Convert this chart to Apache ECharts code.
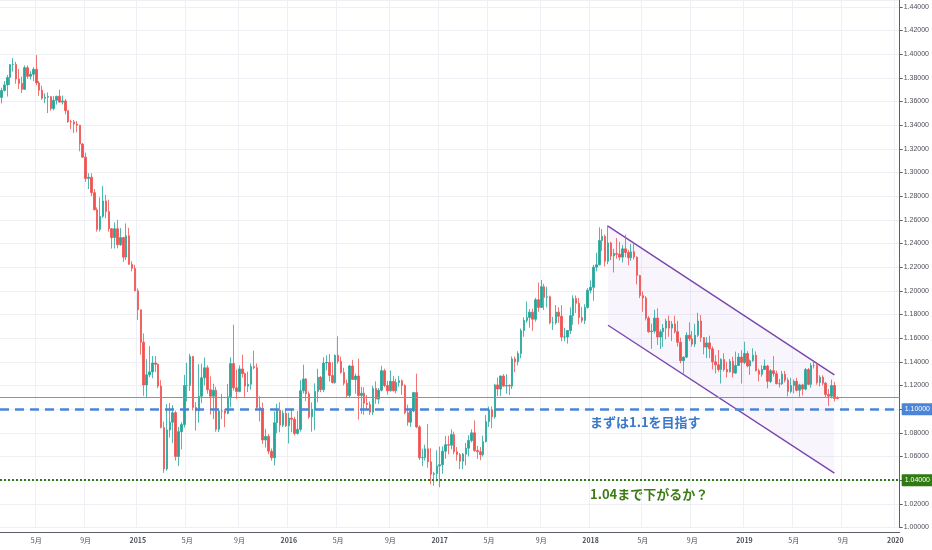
<!DOCTYPE html>
<html>
<head>
<meta charset="utf-8">
<script src="https://cdn.jsdelivr.net/npm/echarts@6/dist/echarts.min.js"></script>
<style>
  html, body { margin: 0; padding: 0; background: #fff; }
  #chart { width: 932px; height: 550px; }
</style>
</head>
<body>
<div id="chart"></div>
<script>
// EUR/USD weekly candles, [open, close, low, high], first week 2014-02-10
var w2014 = [
  [1.3635,1.3693,1.3585,1.3716],[1.3693,1.3740,1.3685,1.3773],[1.3740,1.3803,1.3642,1.3825],[1.3803,1.3912,1.3740,1.3915],
  [1.3912,1.3913,1.3853,1.3967],[1.3913,1.3790,1.3750,1.3936],[1.3790,1.3753,1.3705,1.3876],[1.3753,1.3703,1.3672,1.3810],
  [1.3703,1.3886,1.3700,1.3905],[1.3886,1.3813,1.3790,1.3906],[1.3813,1.3830,1.3785,1.3857],[1.3830,1.3872,1.3772,1.3889],
  [1.3872,1.3757,1.3737,1.3993],[1.3757,1.3696,1.3648,1.3773],[1.3696,1.3628,1.3615,1.3733],[1.3628,1.3636,1.3586,1.3670],
  [1.3636,1.3642,1.3503,1.3677],[1.3642,1.3540,1.3522,1.3643],[1.3540,1.3610,1.3525,1.3646],[1.3610,1.3645,1.3574,1.3648],
  [1.3645,1.3595,1.3590,1.3700],[1.3595,1.3605,1.3575,1.3650],[1.3605,1.3523,1.3492,1.3622],[1.3523,1.3430,1.3420,1.3526],
  [1.3430,1.3427,1.3366,1.3445],[1.3427,1.3410,1.3333,1.3445],[1.3410,1.3400,1.3340,1.3435],[1.3400,1.3240,1.3180,1.3403],
  [1.3240,1.3130,1.3125,1.3250],[1.3130,1.2950,1.2920,1.3168],[1.2950,1.2960,1.2860,1.2995],[1.2960,1.2830,1.2800,1.2994],
  [1.2830,1.2685,1.2680,1.2860],[1.2685,1.2520,1.2500,1.2705],[1.2520,1.2630,1.2502,1.2790],[1.2630,1.2760,1.2615,1.2887],
  [1.2760,1.2670,1.2615,1.2810],[1.2670,1.2525,1.2500,1.2770],[1.2525,1.2450,1.2357,1.2530],[1.2450,1.2525,1.2358,1.2578],
  [1.2525,1.2390,1.2360,1.2600],[1.2390,1.2450,1.2380,1.2530],[1.2450,1.2285,1.2245,1.2456],[1.2285,1.2465,1.2260,1.2570],
  [1.2465,1.2225,1.2220,1.2533],[1.2225,1.2190,1.2165,1.2250],[1.2190,1.2000,1.1997,1.2220]
];
var w2015 = [
  [1.2000,1.1840,1.1754,1.2020],[1.1840,1.1565,1.1460,1.1840],[1.1565,1.1205,1.1113,1.1640],[1.1205,1.1290,1.1098,1.1423],
  [1.1290,1.1315,1.1270,1.1534],[1.1315,1.1390,1.1262,1.1450],[1.1390,1.1380,1.1315,1.1449],[1.1380,1.1195,1.1177,1.1387],
  [1.1195,1.0845,1.0838,1.1245],[1.0845,1.0495,1.0462,1.0895],[1.0495,1.0825,1.0480,1.1043],[1.0825,1.0890,1.0760,1.1052],
  [1.0890,1.0970,1.0712,1.1035],[1.0970,1.0600,1.0565,1.0987],[1.0600,1.0810,1.0520,1.0850],[1.0810,1.0870,1.0660,1.0890],
  [1.0870,1.1200,1.0845,1.1290],[1.1200,1.1200,1.1065,1.1392],[1.1200,1.1445,1.1154,1.1467],[1.1445,1.1015,1.0989,1.1450],
  [1.1015,1.0985,1.0819,1.1060],[1.0985,1.1110,1.0885,1.1380],[1.1110,1.1265,1.1050,1.1385],[1.1265,1.1350,1.1200,1.1436],
  [1.1350,1.1165,1.1130,1.1370],[1.1165,1.1110,1.0955,1.1278],[1.1110,1.1160,1.0915,1.1215],[1.1160,1.0830,1.0810,1.1190],
  [1.0830,1.0985,1.0808,1.0998],[1.0985,1.0985,1.0915,1.1129],[1.0985,1.0965,1.0848,1.1000],[1.0965,1.1105,1.0957,1.1214],
  [1.1105,1.1385,1.1016,1.1439],[1.1385,1.1180,1.1156,1.1714],[1.1180,1.1150,1.1087,1.1332],[1.1150,1.1340,1.1143,1.1370],
  [1.1340,1.1300,1.1266,1.1460],[1.1300,1.1195,1.1104,1.1310],[1.1195,1.1210,1.1145,1.1317],[1.1210,1.1360,1.1165,1.1387],
  [1.1360,1.1350,1.1338,1.1495],[1.1350,1.1015,1.0996,1.1387],[1.1015,1.1005,1.0896,1.1108],[1.1005,1.0740,1.0706,1.1056],
  [1.0740,1.0770,1.0676,1.0834],[1.0770,1.0645,1.0620,1.0790],[1.0645,1.0590,1.0565,1.0668],[1.0590,1.0885,1.0524,1.0980],
  [1.0885,1.0990,1.0796,1.1045],[1.0990,1.0865,1.0805,1.1058],[1.0865,1.0965,1.0849,1.0990],[1.0965,1.0860,1.0850,1.0994]
];
var w2016 = [
  [1.0860,1.0925,1.0710,1.0970],[1.0925,1.0915,1.0805,1.0995],[1.0915,1.0795,1.0778,1.0936],[1.0795,1.0830,1.0785,1.0986],
  [1.0830,1.1155,1.0810,1.1245],[1.1155,1.1255,1.1133,1.1376],[1.1255,1.1130,1.1068,1.1263],[1.1130,1.0935,1.0919,1.1150],
  [1.0935,1.1000,1.0810,1.1057],[1.1000,1.1150,1.0822,1.1218],[1.1150,1.1270,1.1058,1.1342],[1.1270,1.1165,1.1144,1.1280],
  [1.1165,1.1390,1.1145,1.1438],[1.1390,1.1395,1.1327,1.1454],[1.1395,1.1285,1.1233,1.1465],[1.1285,1.1225,1.1217,1.1398],
  [1.1225,1.1455,1.1214,1.1462],[1.1455,1.1405,1.1384,1.1616],[1.1405,1.1310,1.1300,1.1445],[1.1310,1.1220,1.1200,1.1350],
  [1.1220,1.1115,1.1098,1.1250],[1.1115,1.1365,1.1093,1.1373],[1.1365,1.1250,1.1248,1.1416],[1.1250,1.1280,1.1130,1.1300],
  [1.1280,1.1115,1.0912,1.1427],[1.1115,1.1135,1.0960,1.1189],[1.1135,1.1050,1.0952,1.1185],[1.1050,1.1040,1.1000,1.1120],
  [1.1040,1.0975,1.0952,1.1065],[1.0975,1.1175,1.0951,1.1198],[1.1175,1.1085,1.1046,1.1235],[1.1085,1.1160,1.1045,1.1178],
  [1.1160,1.1325,1.1150,1.1366],[1.1325,1.1200,1.1185,1.1342],[1.1200,1.1155,1.1122,1.1240],[1.1155,1.1235,1.1150,1.1327],
  [1.1235,1.1155,1.1150,1.1282],[1.1155,1.1225,1.1134,1.1257],[1.1225,1.1240,1.1190,1.1280],[1.1240,1.1200,1.1122,1.1250],
  [1.1200,1.0970,1.0957,1.1210],[1.0970,1.0890,1.0860,1.1038],[1.0890,1.0985,1.0850,1.0990],[1.0985,1.1140,1.0975,1.1145],
  [1.1140,1.0850,1.0840,1.1300],[1.0850,1.0590,1.0570,1.0865],[1.0590,1.0590,1.0520,1.0665],[1.0590,1.0665,1.0566,1.0700],
  [1.0665,1.0555,1.0505,1.0874],[1.0555,1.0450,1.0365,1.0670],[1.0450,1.0455,1.0352,1.0470],[1.0455,1.0520,1.0390,1.0653]
];
var w2017 = [
  [1.0520,1.0530,1.0340,1.0684],[1.0530,1.0645,1.0454,1.0685],[1.0645,1.0700,1.0580,1.0775],[1.0700,1.0695,1.0619,1.0775],
  [1.0695,1.0785,1.0660,1.0829],[1.0785,1.0640,1.0619,1.0810],[1.0640,1.0615,1.0565,1.0680],[1.0615,1.0560,1.0494,1.0630],
  [1.0560,1.0620,1.0493,1.0630],[1.0620,1.0670,1.0525,1.0715],[1.0670,1.0735,1.0600,1.0780],[1.0735,1.0800,1.0720,1.0829],
  [1.0800,1.0650,1.0640,1.0905],[1.0650,1.0640,1.0580,1.0690],[1.0640,1.0615,1.0570,1.0680],[1.0615,1.0725,1.0600,1.0777],
  [1.0725,1.0895,1.0720,1.0950],[1.0895,1.0995,1.0850,1.1022],[1.0995,1.0935,1.0838,1.1024],[1.0935,1.1205,1.0920,1.1215],
  [1.1205,1.1170,1.1110,1.1268],[1.1170,1.1280,1.1110,1.1285],[1.1280,1.1195,1.1190,1.1296],[1.1195,1.1200,1.1131,1.1296],
  [1.1200,1.1195,1.1119,1.1210],[1.1195,1.1425,1.1170,1.1446],[1.1425,1.1400,1.1312,1.1445],[1.1400,1.1470,1.1370,1.1490],
  [1.1470,1.1665,1.1430,1.1682],[1.1665,1.1750,1.1612,1.1777],[1.1750,1.1775,1.1730,1.1910],[1.1775,1.1820,1.1688,1.1845],
  [1.1820,1.1760,1.1662,1.1850],[1.1760,1.1925,1.1740,1.1940],[1.1925,1.1860,1.1823,1.2070],[1.1860,1.2035,1.1855,1.2092],
  [1.2035,1.1945,1.1838,1.2060],[1.1945,1.1950,1.1860,1.2035],[1.1950,1.1730,1.1717,1.1960],[1.1730,1.1730,1.1669,1.1780],
  [1.1730,1.1820,1.1715,1.1880],[1.1820,1.1785,1.1730,1.1860],[1.1785,1.1610,1.1574,1.1880],[1.1610,1.1610,1.1574,1.1688],
  [1.1610,1.1665,1.1554,1.1668],[1.1665,1.1790,1.1635,1.1860],[1.1790,1.1935,1.1713,1.1962],[1.1935,1.1895,1.1812,1.1961],
  [1.1895,1.1775,1.1717,1.1940],[1.1775,1.1750,1.1730,1.1862],[1.1750,1.1860,1.1720,1.1887],[1.1860,1.2005,1.1850,1.2023]
];
var w2018 = [
  [1.2005,1.2030,1.1978,1.2089],[1.2030,1.2200,1.1916,1.2219],[1.2200,1.2220,1.2165,1.2323],[1.2220,1.2425,1.2215,1.2537],
  [1.2425,1.2460,1.2335,1.2522],[1.2460,1.2250,1.2206,1.2475],[1.2250,1.2405,1.2225,1.2555],[1.2405,1.2295,1.2260,1.2415],
  [1.2295,1.2315,1.2155,1.2355],[1.2315,1.2310,1.2272,1.2446],[1.2310,1.2285,1.2258,1.2413],[1.2285,1.2355,1.2240,1.2388],
  [1.2355,1.2325,1.2285,1.2476],[1.2325,1.2280,1.2215,1.2345],[1.2280,1.2330,1.2255,1.2396],[1.2330,1.2285,1.2265,1.2414],
  [1.2285,1.2130,1.2054,1.2290],[1.2130,1.1960,1.1938,1.2135],[1.1960,1.1940,1.1823,1.1996],[1.1940,1.1770,1.1750,1.1955],
  [1.1770,1.1655,1.1645,1.1787],[1.1655,1.1660,1.1510,1.1723],[1.1660,1.1770,1.1640,1.1840],[1.1770,1.1610,1.1543,1.1852],
  [1.1610,1.1655,1.1508,1.1675],[1.1655,1.1685,1.1527,1.1720],[1.1685,1.1745,1.1590,1.1765],[1.1745,1.1685,1.1612,1.1791],
  [1.1685,1.1720,1.1575,1.1745],[1.1720,1.1655,1.1640,1.1790],[1.1655,1.1565,1.1529,1.1746],[1.1565,1.1410,1.1388,1.1605],
  [1.1410,1.1440,1.1301,1.1445],[1.1440,1.1625,1.1432,1.1650],[1.1625,1.1595,1.1575,1.1734],[1.1595,1.1550,1.1529,1.1660],
  [1.1550,1.1625,1.1525,1.1721],[1.1625,1.1745,1.1610,1.1815],[1.1745,1.1605,1.1568,1.1795],[1.1605,1.1525,1.1463,1.1610],
  [1.1525,1.1560,1.1432,1.1610],[1.1560,1.1510,1.1431,1.1621],[1.1510,1.1400,1.1336,1.1530],[1.1400,1.1375,1.1302,1.1456],
  [1.1375,1.1335,1.1316,1.1500],[1.1335,1.1420,1.1216,1.1430],[1.1420,1.1335,1.1318,1.1472],[1.1335,1.1315,1.1268,1.1401],
  [1.1315,1.1405,1.1311,1.1425],[1.1405,1.1305,1.1268,1.1443],[1.1305,1.1370,1.1300,1.1486],[1.1370,1.1440,1.1365,1.1474],
  [1.1440,1.1395,1.1216,1.1498]
];
var w2019 = [
  [1.1395,1.1470,1.1380,1.1570],[1.1470,1.1365,1.1354,1.1490],[1.1365,1.1410,1.1289,1.1420],[1.1410,1.1455,1.1400,1.1514],
  [1.1455,1.1325,1.1320,1.1488],[1.1325,1.1295,1.1234,1.1342],[1.1295,1.1335,1.1275,1.1370],[1.1335,1.1365,1.1332,1.1420],
  [1.1365,1.1235,1.1176,1.1375],[1.1235,1.1325,1.1220,1.1340],[1.1325,1.1300,1.1275,1.1448],[1.1300,1.1215,1.1211,1.1325],
  [1.1215,1.1215,1.1183,1.1255],[1.1215,1.1295,1.1205,1.1324],[1.1295,1.1245,1.1226,1.1323],[1.1245,1.1150,1.1110,1.1265],
  [1.1150,1.1200,1.1135,1.1265],[1.1200,1.1235,1.1134,1.1251],[1.1235,1.1160,1.1150,1.1265],[1.1160,1.1205,1.1105,1.1215],
  [1.1205,1.1170,1.1116,1.1215],[1.1170,1.1335,1.1160,1.1348],[1.1335,1.1210,1.1202,1.1348],[1.1210,1.1370,1.1181,1.1390],
  [1.1370,1.1370,1.1345,1.1412],[1.1370,1.1225,1.1207,1.1387],[1.1225,1.1270,1.1193,1.1286],[1.1270,1.1220,1.1200,1.1286],
  [1.1220,1.1125,1.1101,1.1230],[1.1125,1.1110,1.1027,1.1170],[1.1110,1.1200,1.1090,1.1250],[1.1200,1.1090,1.1065,1.1230],
  [1.1095,1.1090,1.1084,1.1108]
];

// horizontal levels drawn by hand on the chart
var levelValues = [1.10, 1.04];
var levelLabels = ['1.10000', '1.04000'];

// descending channel, [week index, price]
var channelTop = [[209, 1.2547], [287, 1.1290]];
var channelBottom = [[209, 1.1709], [287, 1.0460]];

var noteTexts = ['まずは1.1を目指す', '1.04まで下がるか？'];
var tickMonths = [1, 5, 9];
var weekCount = 310;

var candles = [].concat(w2014, w2015, w2016, w2017, w2018, w2019);
var lastClose = candles[candles.length - 1][1];

var weeks = [];
for (var i = 0; i < weekCount; i++) {
    var d = new Date(Date.UTC(2014, 1, 10 + 7 * i));
    weeks.push(d.toISOString().slice(0, 10));
}

function isTick(idx, value) {
    var m = +value.slice(5, 7), day = +value.slice(8, 10);
    return day <= 7 && tickMonths.indexOf(m) >= 0;
}

var chart = echarts.init(document.getElementById('chart'));
var axisFont = "'Noto Sans CJK JP', 'Liberation Sans', sans-serif";

chart.setOption({
    animation: false,
    backgroundColor: '#fff',
    grid: { left: 0, right: 31, top: 0, bottom: 22.5 },
    xAxis: {
        type: 'category',
        data: weeks,
        boundaryGap: true,
        offset: 4.5,
        axisLine: { lineStyle: { color: '#5d606b', width: 1 } },
        axisTick: { interval: isTick, alignWithLabel: true, length: 3, lineStyle: { color: '#5d606b' } },
        axisLabel: {
            interval: isTick,
            margin: 5,
            fontSize: 7,
            color: '#4c4f58',
            fontFamily: axisFont,
            formatter: function (value) {
                var m = +value.slice(5, 7);
                return m === 1 ? '{y|' + value.slice(0, 4) + '}' : m + '月';
            },
            rich: { y: { fontSize: 7, fontWeight: 'bold', color: '#4c4f58', fontFamily: axisFont } }
        },
        splitLine: { show: true, interval: isTick, lineStyle: { color: '#eef0f6', width: 1 } }
    },
    yAxis: {
        type: 'value',
        position: 'right',
        min: 1.00,
        max: 1.4458,
        interval: 0.02,
        axisLine: { show: true, lineStyle: { color: '#5d606b', width: 1 } },
        axisTick: { show: true, length: 3, lineStyle: { color: '#5d606b' } },
        axisLabel: {
            showMaxLabel: false,
            margin: 4,
            fontSize: 7,
            color: '#4c4f58',
            fontFamily: "'Liberation Sans', sans-serif",
            formatter: function (v) { return v.toFixed(5); }
        },
        splitLine: { lineStyle: { color: '#eef0f6', width: 1 } }
    },
    series: [
        {
            type: 'custom',
            z: 1,
            silent: true,
            data: [channelTop[0]],
            renderItem: function (params, api) {
                var a = api.coord(channelTop[0]), b = api.coord(channelTop[1]);
                var c = api.coord(channelBottom[1]), d = api.coord(channelBottom[0]);
                var lineStyle = { stroke: '#7a45ad', lineWidth: 1.4 };
                return {
                    type: 'group',
                    children: [
                        { type: 'polygon', shape: { points: [a, b, c, d] }, style: { fill: 'rgba(150, 120, 210, 0.07)' } },
                        { type: 'line', shape: { x1: a[0], y1: a[1], x2: b[0], y2: b[1] }, style: lineStyle },
                        { type: 'line', shape: { x1: d[0], y1: d[1], x2: c[0], y2: c[1] }, style: lineStyle }
                    ]
                };
            }
        },
        {
            type: 'candlestick',
            z: 3,
            barWidth: 2,
            data: candles,
            itemStyle: {
                color: '#26a69a',
                color0: '#ef5350',
                borderColor: '#26a69a',
                borderColor0: '#ef5350',
                borderWidth: 0.8
            },
            markLine: {
                silent: true,
                symbol: 'none',
                animation: false,
                data: [
                    {
                        // last price
                        yAxis: lastClose,
                        lineStyle: { color: '#ef6b69', width: 1, type: 'solid' },
                        label: { show: false }
                    },
                    {
                        yAxis: levelValues[0],
                        lineStyle: { color: '#4a85d8', width: 2.5, type: [9, 6] },
                        label: {
                            show: true, position: 'end', distance: 2, formatter: levelLabels[0],
                            backgroundColor: '#4a85d8', color: '#fff', fontSize: 7,
                            fontFamily: "'Liberation Sans', sans-serif", padding: [3, 3, 2, 3], borderRadius: 1
                        }
                    },
                    {
                        yAxis: levelValues[1],
                        lineStyle: { color: '#2f7a12', width: 2, type: [2, 2] },
                        label: {
                            show: true, position: 'end', distance: 2, formatter: levelLabels[1],
                            backgroundColor: '#2f7a12', color: '#fff', fontSize: 7,
                            fontFamily: "'Liberation Sans', sans-serif", padding: [3, 3, 2, 3], borderRadius: 1
                        }
                    }
                ]
            }
        }
    ],
    graphic: [
        {
            type: 'text', left: 590, top: 416, z: 10,
            style: { text: noteTexts[0], fill: '#3a78c9', font: "bold 13px 'Noto Sans CJK JP'" }
        },
        {
            type: 'text', left: 590, top: 488, z: 10,
            style: { text: noteTexts[1], fill: '#3d7c16', font: "bold 13px 'Noto Sans CJK JP'" }
        }
    ]
});
</script>
</body>
</html>
